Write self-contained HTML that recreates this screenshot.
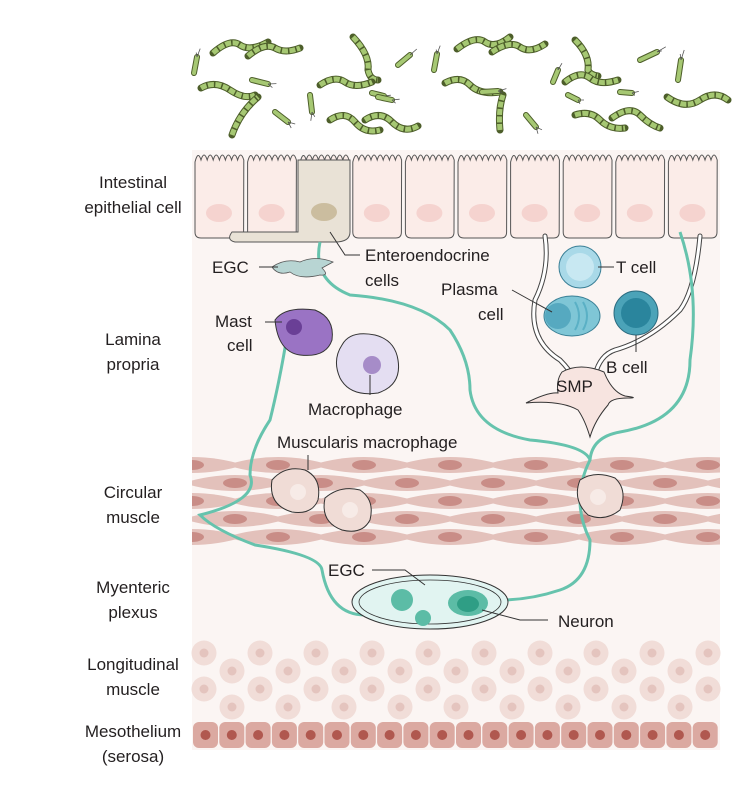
<!DOCTYPE html>
<html><head><meta charset="utf-8"><style>
body{margin:0;background:#fff}
svg{display:block}
text{font-family:"Liberation Sans",sans-serif;font-size:17px;fill:#231f20}
</style></head><body>
<svg id="s" width="756" height="812" viewBox="0 0 756 812">
<rect x="192" y="150" width="528" height="600" fill="#fbf5f3"/>
<g id="musc"></g>
<g id="long"></g>
<g id="meso"></g>
<g id="epi"></g>
<g id="bac"></g>
<path d="M298 160 L350 160 L350 232 Q350 242 335 242 L235 242 Q226 240 232 232 L298 232 Z" fill="#e9e2d6" stroke="#555" stroke-width="1"/>
<ellipse cx="324" cy="212" rx="13" ry="9" fill="#cbbd9f"/>
<g fill="none" stroke-linecap="round">
<path d="M545 236 Q550 270 535 300 Q528 340 560 360 Q570 370 575 380" stroke="#444" stroke-width="5"/>
<path d="M545 236 Q550 270 535 300 Q528 340 560 360 Q570 370 575 380" stroke="#fff" stroke-width="3"/>
<path d="M700 236 Q695 290 680 310 Q650 340 615 350 Q600 355 595 375" stroke="#444" stroke-width="5"/>
<path d="M700 236 Q695 290 680 310 Q650 340 615 350 Q600 355 595 375" stroke="#fff" stroke-width="3"/>
</g>
<path d="M562 372 Q580 362 604 372 Q612 392 625 396 Q640 398 628 398 Q610 398 608 405 Q595 420 590 437 Q585 420 578 410 Q560 400 526 403 Q548 392 558 393 Q556 380 562 372Z" fill="#f7e4e0" stroke="#333" stroke-width="1"/>
<text x="556" y="392" font-size="16">SMP</text>
<g fill="none" stroke="#66c3ad" stroke-width="3">
<path d="M320 242 Q312 280 350 295 Q420 300 450 330 Q470 360 470 390 Q475 430 530 440 Q585 445 590 460 Q570 500 590 540 Q590 580 560 590 Q530 600 500 600"/>
<path d="M680 232 Q700 290 690 360 Q690 420 620 432 Q592 437 590 460"/>
<path d="M288 330 Q280 380 270 420 Q250 450 250 475 Q260 500 200 515 Q215 530 255 545 Q320 555 322 570 Q330 615 365 615 Q390 612 400 605"/>
</g>
<circle cx="580" cy="267" r="21" fill="#a9d9e8" stroke="#3a7f96"/><circle cx="580" cy="267" r="14" fill="#c8e8f2"/>
<ellipse cx="572" cy="316" rx="28" ry="20" fill="#7fc6d6" stroke="#3a8096"/><circle cx="558" cy="316" r="13" fill="#56a9c0"/>
<path d="M575 302 Q583 316 575 330 M583 302 Q591 316 583 330" stroke="#5ab0c5" stroke-width="2" fill="none"/>
<circle cx="636" cy="313" r="22" fill="#4ba3b8" stroke="#2c6c80"/><circle cx="636" cy="313" r="15" fill="#2a859d"/>
<path d="M272 267 Q285 258 300 262 Q315 255 333 262 L322 268 Q330 276 320 275 Q300 280 290 272 Q278 276 272 267Z" fill="#b8d5d3" stroke="#555" stroke-width=".8"/>
<path d="M275 320 Q285 306 315 310 Q335 318 332 340 Q326 358 300 355 Q278 352 275 320Z" fill="#9a73c4" stroke="#333"/>
<circle cx="294" cy="327" r="8" fill="#6a3f96"/>
<path d="M342 345 Q350 330 375 335 Q395 340 398 360 Q402 385 378 393 Q350 397 340 378 Q332 360 342 345Z" fill="#e4def2" stroke="#333"/>
<circle cx="372" cy="365" r="9" fill="#a68cc8"/>
<g fill="#f0dcd6" stroke="#333" stroke-width="1">
<path d="M272 480 Q285 465 305 470 Q322 478 318 500 Q312 515 292 512 Q268 505 272 480Z"/>
<path d="M325 498 Q340 485 360 490 Q375 500 370 520 Q362 535 342 530 Q320 522 325 498Z"/>
<path d="M580 480 Q595 470 615 478 Q628 490 620 510 Q605 522 588 515 Q572 500 580 480Z"/>
</g>
<g fill="#f7ebe7"><circle cx="298" cy="492" r="8"/><circle cx="350" cy="510" r="8"/><circle cx="598" cy="497" r="8"/></g>
<ellipse cx="430" cy="602" rx="78" ry="27" fill="#e1f4f1" stroke="#333"/>
<ellipse cx="430" cy="602" rx="71" ry="22" fill="none" stroke="#333" stroke-width=".8"/>
<circle cx="402" cy="600" r="11" fill="#5cbca6"/><circle cx="423" cy="618" r="8" fill="#5cbca6"/>
<ellipse cx="468" cy="603" rx="20" ry="13" fill="#5cbca6"/><ellipse cx="468" cy="604" rx="11" ry="8" fill="#2f9e85"/>
<g stroke="#333" stroke-width="1" fill="none">
<line x1="259" y1="267" x2="278" y2="267"/>
<path d="M330 232 L345 255 L360 255"/>
<line x1="598" y1="267" x2="614" y2="267"/>
<path d="M512 290 L530 300 L552 312"/>
<line x1="636" y1="335" x2="636" y2="352"/>
<line x1="265" y1="322" x2="282" y2="322"/>
<line x1="370" y1="375" x2="370" y2="395"/>
<line x1="308" y1="455" x2="308" y2="470"/>
<path d="M372 570 L405 570 L425 585"/>
<path d="M482 610 L520 620 L548 620"/>
</g>
<g text-anchor="middle">
<text x="133" y="188">Intestinal</text><text x="133" y="213">epithelial cell</text>
<text x="133" y="345">Lamina</text><text x="133" y="370">propria</text>
<text x="133" y="498">Circular</text><text x="133" y="523">muscle</text>
<text x="133" y="593">Myenteric</text><text x="133" y="618">plexus</text>
<text x="133" y="670">Longitudinal</text><text x="133" y="695">muscle</text>
<text x="133" y="737">Mesothelium</text><text x="133" y="762">(serosa)</text>
</g>
<text x="212" y="273">EGC</text>
<text x="365" y="261">Enteroendocrine</text><text x="365" y="286">cells</text>
<text x="441" y="295">Plasma</text><text x="478" y="320">cell</text>
<text x="616" y="273">T cell</text>
<text x="606" y="373">B cell</text>
<text x="215" y="327">Mast</text><text x="227" y="351">cell</text>
<text x="308" y="415">Macrophage</text>
<text x="277" y="448">Muscularis macrophage</text>
<text x="328" y="576">EGC</text>
<text x="558" y="627">Neuron</text>
</svg>
<script>
var NS="http://www.w3.org/2000/svg";
function el(p,t,a){var e=document.createElementNS(NS,t);for(var k in a)e.setAttribute(k,a[k]);document.getElementById(p).appendChild(e);return e;}
for(var i=0;i<10;i++){var x=193+i*52.6;
var d="M"+(x+2)+" 232 L"+(x+2)+" 162";
for(var j=0;j<4;j++){var a=x+2+j*12.2;d+=" Q"+(a+3)+" 150 "+(a+6)+" 160 Q"+(a+9)+" 150 "+(a+12.2)+" 160";}
d+=" L"+(x+50.6)+" 232 Q"+(x+50.6)+" 238 "+(x+45)+" 238 L"+(x+8)+" 238 Q"+(x+2)+" 238 "+(x+2)+" 232Z";
el("epi","path",{d:d,fill:"#fbece8",stroke:"#555","stroke-width":1});
el("epi","ellipse",{cx:x+26,cy:213,rx:13,ry:9,fill:"#f5d3cf"});}
for(var r=0;r<5;r++){var y=465+r*18,off=(r%2)*43;
for(var k=-1;k<8;k++){var cx=192+off+k*86;
el("musc","path",{d:"M"+(cx-52)+" "+y+" Q"+cx+" "+(y-16)+" "+(cx+52)+" "+y+" Q"+cx+" "+(y+16)+" "+(cx-52)+" "+y+"Z",fill:"#e3c1bb"});
el("musc","ellipse",{cx:cx,cy:y,rx:12,ry:5,fill:"#c98d87"});}}
el("musc","rect",{x:0,y:440,width:192,height:120,fill:"#fff"});
el("musc","rect",{x:720,y:440,width:40,height:120,fill:"#fff"});
for(var r=0;r<4;r++){var y=653+r*18,off=(r%2)*28;
for(var k=0;k<10;k++){var cx=204+off+k*56;if(cx>712)continue;
el("long","circle",{cx:cx,cy:y,r:12.5,fill:"#f1ddd8"});
el("long","circle",{cx:cx,cy:y,r:4.5,fill:"#e4c4be"});}}
for(var k=0;k<20;k++){var x=193+k*26.3;
el("meso","rect",{x:x,y:722,width:25,height:26,rx:6,fill:"#dba9a1"});
el("meso","circle",{cx:x+12.5,cy:735,r:5,fill:"#b0584f"});}
var ch=["M213 53 Q230 38 240 45 T268 42","M248 56 Q265 42 275 48 T300 48","M201 88 Q215 80 230 90 T255 95","M232 135 Q240 112 258 97","M353 37 Q370 55 368 70 Q370 80 378 80","M320 85 Q335 75 345 82 T372 82","M330 120 Q345 110 355 122 T380 130","M365 120 Q380 110 392 122 T418 126","M457 49 Q475 35 485 42 T510 37","M492 52 Q510 40 520 47 T545 44","M445 83 Q460 75 470 85 T500 92","M500 130 Q498 110 503 95","M575 40 Q590 55 588 70 Q590 75 598 76","M565 82 Q580 70 590 78 T618 80","M575 115 Q590 110 600 120 T625 128","M612 118 Q630 105 640 115 T660 128","M667 97 Q685 110 700 100 T728 100"];
ch.forEach(function(d){el("bac","path",{d:d,fill:"none",stroke:"#4d5e2a","stroke-width":7,"stroke-linecap":"round"});
el("bac","path",{d:d,fill:"none",stroke:"#a6c873","stroke-width":5,"stroke-linecap":"butt","stroke-dasharray":"6 1.5"});});
[[194,73,197,57],[252,80,268,84],[275,112,288,122],[310,95,312,112],[398,65,410,55],[434,70,437,54],[372,93,384,96],[378,97,392,100],[482,92,498,91],[526,115,536,127],[553,82,558,70],[568,95,578,100],[640,60,657,52],[678,80,681,60],[620,92,632,93]].forEach(function(p){
el("bac","line",{x1:p[0],y1:p[1],x2:p[2],y2:p[3],stroke:"#4d5e2a","stroke-width":6,"stroke-linecap":"round"});
el("bac","line",{x1:p[0],y1:p[1],x2:p[2],y2:p[3],stroke:"#a6c873","stroke-width":4,"stroke-linecap":"round"});
var dx=p[2]-p[0],dy=p[3]-p[1];
el("bac","path",{d:"M"+p[2]+" "+p[3]+" l"+(dx*.4+2)+" "+(dy*.4-2)+" M"+p[2]+" "+p[3]+" l"+(dx*.4-2)+" "+(dy*.4+2),stroke:"#555","stroke-width":.8,fill:"none"});});
</script>
</body></html>
